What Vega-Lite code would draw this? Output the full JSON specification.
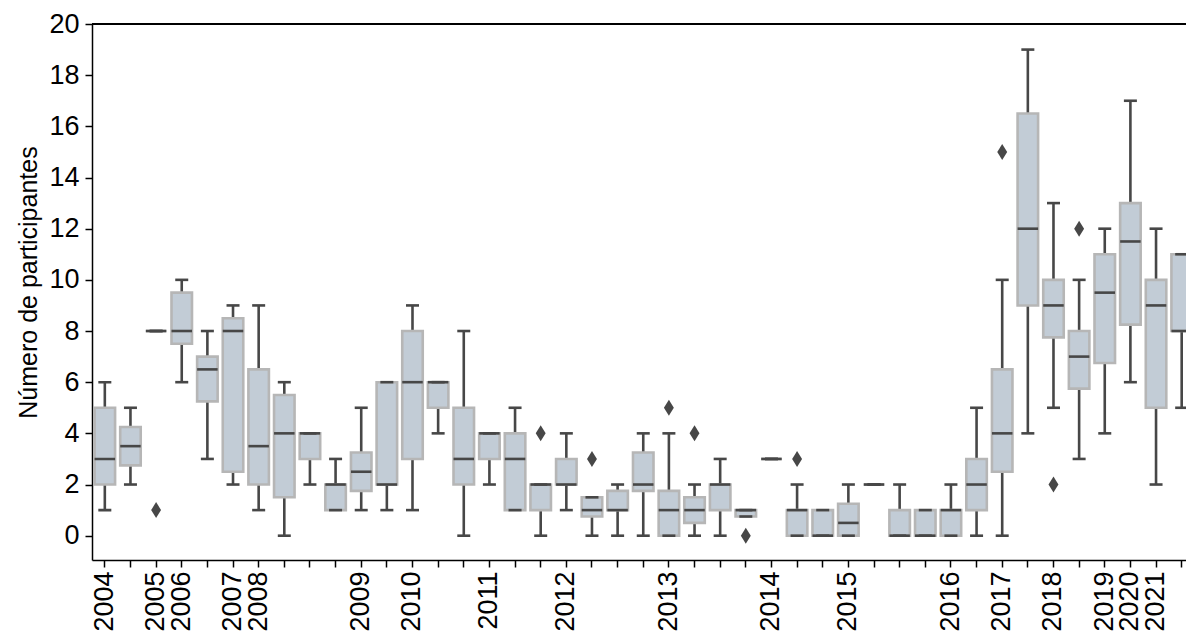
{
  "$schema": "https://vega.github.io/schema/vega-lite/v6.json",
  "autosize": {"type": "none"},
  "padding": {"left": 92, "top": 24, "right": 0, "bottom": 77},
  "width": 1094,
  "height": 536,
  "background": "white",
  "config": {"view": {"stroke": null}, "font": "Liberation Sans"},
  "data": {"values": [
    {"evento": "2004_1", "lo": 1, "q1": 2, "med": 3, "q3": 5, "hi": 6, "out": null},
    {"evento": "2004_2", "lo": 2, "q1": 2.75, "med": 3.5, "q3": 4.25, "hi": 5, "out": null},
    {"evento": "2005_1", "lo": 8, "q1": 8, "med": 8, "q3": 8, "hi": 8, "out": 1},
    {"evento": "2006_1", "lo": 6, "q1": 7.5, "med": 8, "q3": 9.5, "hi": 10, "out": null},
    {"evento": "2006_2", "lo": 3, "q1": 5.25, "med": 6.5, "q3": 7, "hi": 8, "out": null},
    {"evento": "2007_1", "lo": 2, "q1": 2.5, "med": 8, "q3": 8.5, "hi": 9, "out": null},
    {"evento": "2008_1", "lo": 1, "q1": 2, "med": 3.5, "q3": 6.5, "hi": 9, "out": null},
    {"evento": "2008_2", "lo": 0, "q1": 1.5, "med": 4, "q3": 5.5, "hi": 6, "out": null},
    {"evento": "2008_3", "lo": 2, "q1": 3, "med": 4, "q3": 4, "hi": 4, "out": null},
    {"evento": "2008_4", "lo": 1, "q1": 1, "med": 2, "q3": 2, "hi": 3, "out": null},
    {"evento": "2009_1", "lo": 1, "q1": 1.75, "med": 2.5, "q3": 3.25, "hi": 5, "out": null},
    {"evento": "2009_2", "lo": 1, "q1": 2, "med": 2, "q3": 6, "hi": 6, "out": null},
    {"evento": "2010_1", "lo": 1, "q1": 3, "med": 6, "q3": 8, "hi": 9, "out": null},
    {"evento": "2010_2", "lo": 4, "q1": 5, "med": 6, "q3": 6, "hi": 6, "out": null},
    {"evento": "2010_3", "lo": 0, "q1": 2, "med": 3, "q3": 5, "hi": 8, "out": null},
    {"evento": "2011_1", "lo": 2, "q1": 3, "med": 4, "q3": 4, "hi": 4, "out": null},
    {"evento": "2011_2", "lo": 1, "q1": 1, "med": 3, "q3": 4, "hi": 5, "out": null},
    {"evento": "2011_3", "lo": 0, "q1": 1, "med": 2, "q3": 2, "hi": 2, "out": 4},
    {"evento": "2012_1", "lo": 1, "q1": 2, "med": 2, "q3": 3, "hi": 4, "out": null},
    {"evento": "2012_2", "lo": 0, "q1": 0.75, "med": 1, "q3": 1.5, "hi": 1.5, "out": 3},
    {"evento": "2012_3", "lo": 0, "q1": 1, "med": 1, "q3": 1.75, "hi": 2, "out": null},
    {"evento": "2012_4", "lo": 0, "q1": 1.75, "med": 2, "q3": 3.25, "hi": 4, "out": null},
    {"evento": "2013_1", "lo": 0, "q1": 0, "med": 1, "q3": 1.75, "hi": 4, "out": 5},
    {"evento": "2013_2", "lo": 0, "q1": 0.5, "med": 1, "q3": 1.5, "hi": 2, "out": 4},
    {"evento": "2013_3", "lo": 0, "q1": 1, "med": 2, "q3": 2, "hi": 3, "out": null},
    {"evento": "2013_4", "lo": 0.75, "q1": 0.75, "med": 1, "q3": 1, "hi": 1, "out": 0},
    {"evento": "2014_1", "lo": 3, "q1": 3, "med": 3, "q3": 3, "hi": 3, "out": null},
    {"evento": "2014_2", "lo": 0, "q1": 0, "med": 1, "q3": 1, "hi": 2, "out": 3},
    {"evento": "2014_3", "lo": 0, "q1": 0, "med": 0, "q3": 1, "hi": 1, "out": null},
    {"evento": "2015_1", "lo": 0, "q1": 0, "med": 0.5, "q3": 1.25, "hi": 2, "out": null},
    {"evento": "2015_2", "lo": 2, "q1": 2, "med": 2, "q3": 2, "hi": 2, "out": null},
    {"evento": "2015_3", "lo": 0, "q1": 0, "med": 0, "q3": 1, "hi": 2, "out": null},
    {"evento": "2015_4", "lo": 0, "q1": 0, "med": 0, "q3": 1, "hi": 1, "out": null},
    {"evento": "2016_1", "lo": 0, "q1": 0, "med": 1, "q3": 1, "hi": 2, "out": null},
    {"evento": "2016_2", "lo": 0, "q1": 1, "med": 2, "q3": 3, "hi": 5, "out": null},
    {"evento": "2017_1", "lo": 0, "q1": 2.5, "med": 4, "q3": 6.5, "hi": 10, "out": 15},
    {"evento": "2017_2", "lo": 4, "q1": 9, "med": 12, "q3": 16.5, "hi": 19, "out": null},
    {"evento": "2018_1", "lo": 5, "q1": 7.75, "med": 9, "q3": 10, "hi": 13, "out": 2},
    {"evento": "2018_2", "lo": 3, "q1": 5.75, "med": 7, "q3": 8, "hi": 10, "out": 12},
    {"evento": "2019_1", "lo": 4, "q1": 6.75, "med": 9.5, "q3": 11, "hi": 12, "out": null},
    {"evento": "2020_1", "lo": 6, "q1": 8.25, "med": 11.5, "q3": 13, "hi": 17, "out": null},
    {"evento": "2021_1", "lo": 2, "q1": 5, "med": 9, "q3": 10, "hi": 12, "out": null},
    {"evento": "2021_2", "lo": 5, "q1": 8, "med": 8, "q3": 11, "hi": 11, "out": null}
  ]},
  "layer": [
    {
      "encoding": {
        "x": {
          "field": "evento", "type": "ordinal",
          "scale": {"range": [0, 1102.5], "paddingInner": 0.2, "paddingOuter": 0.1},
          "axis": {
            "title": null,
            "labelExpr": "split(datum.label, '_')[1] == '1' ? split(datum.label, '_')[0] : ''",
            "labelAngle": -90, "labelAlign": "right", "labelBaseline": "middle",
            "labelFontSize": 27, "labelColor": "black", "labelPadding": 4,
            "labelOverlap": false, "labelBound": false, "labelFlush": false,
            "tickColor": "black", "tickSize": 7, "tickWidth": 1.5,
            "domainColor": "black", "domainWidth": 1.5, "grid": false
          }
        }
      },
      "layer": [
        {
          "mark": {"type": "rule", "color": "#474747", "strokeWidth": 2.6, "clip": true},
          "encoding": {
            "y": {
              "field": "lo", "type": "quantitative",
              "scale": {"domain": [-0.95, 20], "nice": false, "zero": false},
              "axis": {
                "title": "Número de participantes",
                "values": [0,1,2,3,4,5,6,7,8,9,10,11,12,13,14,15,16,17,18,19,20],
                "labelExpr": "datum.value % 2 === 0 ? datum.label : ''",
                "tickSize": {"condition": {"test": "datum.value % 2 === 0", "value": 7}, "value": 4},
                "tickColor": "black", "tickWidth": 1.5,
                "domainColor": "black", "domainWidth": 1.5,
                "labelFontSize": 27, "labelColor": "black", "labelPadding": 6,
                "titleFontSize": 25, "titleFontWeight": "normal", "titleColor": "black", "titlePadding": 7,
                "titleY": 258,
                "grid": false
              }
            },
            "y2": {"field": "q1"}
          }
        },
        {
          "mark": {"type": "rule", "color": "#474747", "strokeWidth": 2.6, "clip": true},
          "encoding": {"y": {"field": "q3", "type": "quantitative"}, "y2": {"field": "hi"}}
        },
        {
          "mark": {"type": "bar", "fill": "#c2ccd6", "stroke": "#b6b6b6", "strokeWidth": 2.6, "clip": true},
          "encoding": {"y": {"field": "q1", "type": "quantitative"}, "y2": {"field": "q3"}}
        },
        {
          "mark": {"type": "tick", "color": "#474747", "size": 20.5, "thickness": 2.6, "opacity": 1, "clip": true},
          "encoding": {"y": {"field": "med", "type": "quantitative"}}
        },
        {
          "mark": {"type": "tick", "color": "#474747", "size": 13, "thickness": 2.6, "opacity": 1, "clip": true},
          "encoding": {"y": {"field": "lo", "type": "quantitative"}}
        },
        {
          "mark": {"type": "tick", "color": "#474747", "size": 13, "thickness": 2.6, "opacity": 1, "clip": true},
          "encoding": {"y": {"field": "hi", "type": "quantitative"}}
        },
        {
          "mark": {"type": "point", "shape": "M0,-1L0.62,0L0,1L-0.62,0Z", "filled": true, "color": "#474747", "size": 256, "opacity": 1, "strokeWidth": 0, "clip": true},
          "encoding": {"y": {"field": "out", "type": "quantitative"}}
        }
      ]
    },
    {
      "mark": {"type": "rule", "color": "black", "strokeWidth": 1.5},
      "encoding": {"y": {"datum": 20}}
    }
  ]
}
